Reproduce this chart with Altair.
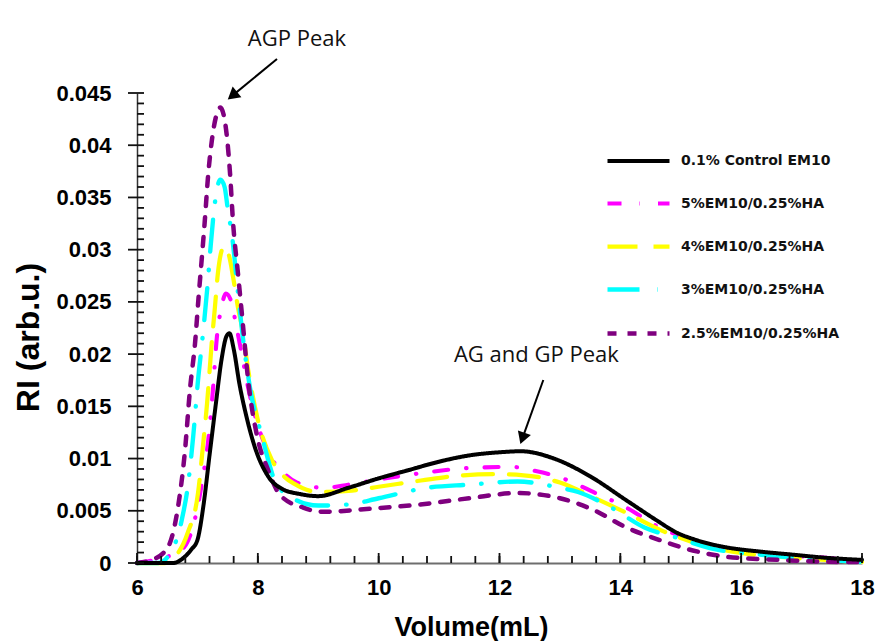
import altair as alt
import pandas as pd

# Series definitions
series_names = [
    "0.1% Control EM10",
    "5%EM10/0.25%HA",
    "4%EM10/0.25%HA",
    "3%EM10/0.25%HA",
    "2.5%EM10/0.25%HA",
]
series_colors = ["#000000", "#ff00ff", "#ffff00", "#00ffff", "#7f007f"]
series_dashes = [[1, 0], [14, 18, 0.5, 18], [30, 16], [32, 18, 0.5, 18], [9, 11]]
series_widths = [4, 4.5, 4.5, 4.5, 4.5]

# RI traces (volume in mL, RI in arb. units)
control_x = [6.0, 6.6, 6.75, 6.9, 7.0, 7.1, 7.2, 7.3, 7.4, 7.48, 7.53, 7.6, 7.7, 7.8, 7.95,
             8.17, 8.4, 8.7, 9.0, 9.5, 10.0, 10.5, 11.0, 11.5, 12.0, 12.35, 12.9, 13.5, 14.1,
             14.65, 14.9, 15.2, 15.5, 15.75, 16.3, 16.85, 17.4, 18.0]
control_y = [0.0, 0.0, 0.0004, 0.0013, 0.0022, 0.0055, 0.0103, 0.0150, 0.0195, 0.0217, 0.0220,
             0.0205, 0.0170, 0.0143, 0.0111, 0.0083, 0.0071, 0.0066, 0.0064, 0.0072, 0.0081,
             0.0089, 0.0097, 0.0103, 0.0106, 0.0107, 0.0100, 0.0083, 0.0060, 0.0039, 0.0030,
             0.0023, 0.0018, 0.0015, 0.0011, 0.0008, 0.0005, 0.0003]

em5_x = [6.0, 6.3, 6.5, 6.75, 6.95, 7.09, 7.18, 7.26, 7.32, 7.4, 7.47, 7.55, 7.65, 7.75, 7.85,
         8.0, 8.2, 8.45, 8.65, 9.1, 9.5, 10.0, 10.7, 11.5, 12.2, 12.6, 13.0, 13.55, 14.1, 14.65,
         15.2, 15.75, 16.6, 17.4, 18.0]
em5_y = [0.0, 0.0003, 0.0006, 0.0013, 0.0040, 0.0082, 0.0118, 0.0168, 0.0215, 0.0245, 0.0258,
         0.0252, 0.0225, 0.0195, 0.0165, 0.0132, 0.0103, 0.0085, 0.0077, 0.0072, 0.0075,
         0.0080, 0.0086, 0.0091, 0.0092, 0.0088, 0.0082, 0.0068, 0.0053, 0.0034, 0.0022,
         0.0014, 0.0008, 0.0005, 0.0002]

em4_x = [6.0, 6.46, 6.63, 6.84, 7.01, 7.09, 7.16, 7.24, 7.29, 7.34, 7.44, 7.52, 7.59, 7.67,
         7.74, 7.84, 8.0, 8.23, 8.45, 8.6, 9.0, 9.5, 10.0, 10.7, 11.4, 11.9, 12.4, 13.0, 13.55,
         14.1, 14.65, 15.2, 15.75, 16.6, 17.4, 18.0]
em4_y = [0.0, 0.0, 0.0006, 0.0029, 0.0067, 0.0111, 0.0153, 0.0213, 0.0245, 0.0278, 0.0303,
         0.0295, 0.0274, 0.0245, 0.0225, 0.0185, 0.0137, 0.0099, 0.0082, 0.0076, 0.0068,
         0.0069, 0.0073, 0.0079, 0.0084, 0.0085, 0.0084, 0.0077, 0.0063, 0.0048, 0.0032,
         0.0020, 0.0012, 0.0006, 0.0003, 0.0001]

em3_x = [6.0, 6.35, 6.51, 6.74, 6.84, 6.93, 7.01, 7.08, 7.16, 7.22, 7.29, 7.38, 7.45, 7.5,
         7.58, 7.66, 7.74, 7.87, 8.07, 8.28, 8.42, 9.0, 9.5, 10.0, 10.8, 11.5, 12.3, 13.0,
         13.3, 13.85, 14.4, 14.95, 15.5, 16.3, 17.15, 18.0]
em3_y = [0.0, 0.0, 0.0006, 0.0041, 0.0073, 0.0121, 0.0175, 0.0213, 0.0261, 0.0304, 0.0345,
         0.0367, 0.0360, 0.0340, 0.0310, 0.0265, 0.0222, 0.0168, 0.0121, 0.0079, 0.0068,
         0.0055, 0.0056, 0.0062, 0.0072, 0.0075, 0.0078, 0.0072, 0.0068, 0.0053, 0.0034,
         0.0024, 0.0014, 0.0008, 0.0004, 0.0001]

em25_x = [6.0, 6.25, 6.51, 6.68, 6.79, 6.88, 6.96, 7.02, 7.07, 7.12, 7.18, 7.24, 7.32, 7.38,
          7.46, 7.54, 7.59, 7.67, 7.75, 7.84, 7.99, 8.17, 8.37, 8.75, 9.08, 9.86, 10.68, 11.5,
          12.3, 13.0, 13.55, 14.1, 14.65, 15.2, 15.75, 16.6, 17.7, 18.0]
em25_y = [0.0, 0.0003, 0.0015, 0.0054, 0.0105, 0.0168, 0.0210, 0.0255, 0.0290, 0.0326, 0.0373,
          0.0405, 0.0430, 0.0436, 0.0421, 0.0373, 0.0326, 0.0278, 0.0230, 0.0175, 0.0121,
          0.0089, 0.0065, 0.0053, 0.0049, 0.0052, 0.0056, 0.0062, 0.0067, 0.0062, 0.0051,
          0.0034, 0.0022, 0.0012, 0.0006, 0.0003, 0.0001, 0.0001]

# Peak annotations
note_labels = ["AGP Peak", "AG and GP Peak"]
note_x = [8.648, 12.61]
note_y = [0.0502, 0.0199]
arrow_x0 = [8.317, 12.725]
arrow_y0 = [0.04825, 0.01752]
arrow_x1 = [7.579, 12.379]
arrow_y1 = [0.04475, 0.01193]
arrow_angle = [230.7, 199.75]

# Tick positions (major ticks carry labels)
x_major = [6, 8, 10, 12, 14, 16, 18]
x_minor = [round(6 + 0.4 * i, 1) for i in range(31)]
y_major = [round(0.005 * i, 3) for i in range(10)]
y_minor = [round(0.001 * i, 3) for i in range(46)]

X_DOMAIN = [6, 18]
Y_DOMAIN = [0, 0.045]
PLOT_W, PLOT_H = 725, 470
# one pixel expressed in data units, used for tick-mark lengths
X_PER_PX = (X_DOMAIN[1] - X_DOMAIN[0]) / PLOT_W
Y_PER_PX = (Y_DOMAIN[1] - Y_DOMAIN[0]) / PLOT_H

# Long table; control drawn last so it sits on top
traces = [
    (series_names[1], em5_x, em5_y),
    (series_names[2], em4_x, em4_y),
    (series_names[3], em3_x, em3_y),
    (series_names[4], em25_x, em25_y),
    (series_names[0], control_x, control_y),
]
rows = []
for name, xs_, ys_ in traces:
    for xv, yv in zip(xs_, ys_):
        rows.append({"series": name, "volume": xv, "ri": yv})
df = pd.DataFrame(rows)

notes = pd.DataFrame({"label": note_labels, "x": note_x, "y": note_y})
arrows = pd.DataFrame({"x0": arrow_x0, "y0": arrow_y0, "x1": arrow_x1,
                       "y1": arrow_y1, "angle": arrow_angle})


def xs():
    return alt.Scale(domain=X_DOMAIN, nice=False, zero=False)


def ys():
    return alt.Scale(domain=Y_DOMAIN, nice=False, zero=False)


TICK_FONT = "Liberation Sans"
TICK_COLOR = "#111111"

legend_cfg = dict(
    title=None, orient="none", legendX=468, legendY=35, symbolType="stroke",
    symbolSize=3844, symbolStrokeWidth=4, labelFont="DejaVu Sans",
    labelFontWeight="bold", labelFontSize=14, labelColor="#111111",
    rowPadding=1, labelOffset=9, padding=0,
)

lines = alt.Chart(df).mark_line(
    strokeCap="round", strokeJoin="round", interpolate="monotone"
).encode(
    x=alt.X("volume:Q", scale=xs(), title="Volume(mL)",
            axis=alt.Axis(orient="bottom", values=x_major, grid=False, format="~g",
                          ticks=False, labelFont=TICK_FONT, labelFontWeight="bold",
                          labelFontSize=22, labelColor="#000000", labelPadding=14,
                          labelFlush=False, domainColor="#6e6e6e", domainWidth=2,
                          titleFont=TICK_FONT, titleFontWeight="bold", titleFontSize=27,
                          titleColor="#000000", titlePadding=16, titleX=334)),
    y=alt.Y("ri:Q", scale=ys(), title="RI (arb.u.)",
            axis=alt.Axis(orient="left", values=y_major, format="~g", grid=False,
                          ticks=False, labelFont=TICK_FONT, labelFontWeight="bold",
                          labelFontSize=22, labelColor="#000000", labelPadding=26,
                          labelFlush=False, domainColor="#333333", domainWidth=1.5,
                          titleFont=TICK_FONT, titleFontWeight="bold", titleFontSize=32,
                          titleColor="#000000", titlePadding=10, titleY=244)),
    color=alt.Color("series:N", scale=alt.Scale(domain=series_names, range=series_colors),
                    legend=alt.Legend(**legend_cfg)),
    strokeDash=alt.StrokeDash("series:N",
                              scale=alt.Scale(domain=series_names, range=series_dashes),
                              legend=alt.Legend(**legend_cfg)),
    strokeWidth=alt.StrokeWidth("series:N",
                                scale=alt.Scale(domain=series_names, range=series_widths),
                                legend=None),
)


# Tick marks along the axes as short rules: inward on x, inward minor / outward major on y
def x_ticks(values, length_px):
    tbl = pd.DataFrame({"pos": values, "y0": 0.0, "y1": length_px * Y_PER_PX})
    return alt.Chart(tbl).mark_rule(color=TICK_COLOR, strokeWidth=1.8, clip=False).encode(
        x=alt.X("pos:Q", scale=xs(), axis=None),
        y=alt.Y("y0:Q", scale=ys(), axis=None),
        y2="y1:Q",
    )


def y_ticks(values, length_px, outward=False):
    x0 = X_DOMAIN[0]
    x1 = x0 - length_px * X_PER_PX if outward else x0 + length_px * X_PER_PX
    tbl = pd.DataFrame({"pos": values, "x0": x0, "x1": x1})
    return alt.Chart(tbl).mark_rule(color=TICK_COLOR, strokeWidth=1.8, clip=False).encode(
        y=alt.Y("pos:Q", scale=ys(), axis=None),
        x=alt.X("x0:Q", scale=xs(), axis=None),
        x2="x1:Q",
    )


note_text = alt.Chart(notes).mark_text(
    font="Open Sans", fontSize=22, color="#111111", clip=False
).encode(
    x=alt.X("x:Q", scale=xs(), axis=None),
    y=alt.Y("y:Q", scale=ys(), axis=None),
    text="label:N",
)

arrow_shaft = alt.Chart(arrows).mark_rule(color="#000000", strokeWidth=2, clip=False).encode(
    x=alt.X("x0:Q", scale=xs(), axis=None),
    y=alt.Y("y0:Q", scale=ys(), axis=None),
    x2="x1:Q",
    y2="y1:Q",
)

arrow_head = alt.Chart(arrows).mark_point(
    shape="triangle-up", filled=True, color="#000000", size=190, opacity=1, clip=False
).encode(
    x=alt.X("x1:Q", scale=xs(), axis=None),
    y=alt.Y("y1:Q", scale=ys(), axis=None),
    angle=alt.Angle("angle:Q", scale=None),
)

chart = alt.layer(
    lines, note_text, arrow_shaft, arrow_head,
    x_ticks(x_minor, 7), x_ticks(x_major, 10),
    y_ticks(y_minor, 7), y_ticks(y_major, 9, outward=True),
).resolve_scale(
    x="independent", y="independent"
).properties(
    width=PLOT_W, height=PLOT_H,
    autosize=alt.AutoSizeParams(type="none"),
    padding={"left": 137, "top": 93, "right": 15, "bottom": 78},
    background="white",
).configure_view(stroke=None)

chart.save("out.html", embed_options={"renderer": "svg", "actions": False})
